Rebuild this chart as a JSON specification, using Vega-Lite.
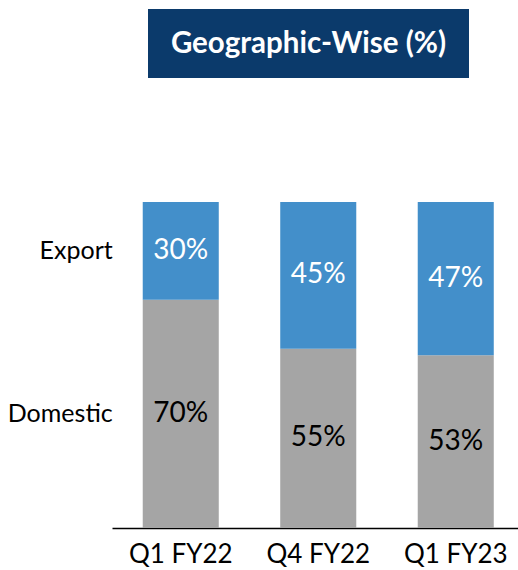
{
  "$schema": "https://vega.github.io/schema/vega-lite/v6.json",
  "padding": {"left": 7.5, "top": 9, "right": 0, "bottom": 0},
  "autosize": {"type": "pad"},
  "bounds": "flush",
  "center": true,
  "spacing": 124,
  "background": "white",
  "config": {"view": {"stroke": null}, "font": "Lato"},
  "vconcat": [
    {
      "width": 321,
      "height": 69,
      "view": {"fill": "#0b3a6b", "stroke": null},
      "data": {"values": [{"t": "Geographic-Wise (%)"}]},
      "mark": {"type": "text", "color": "white", "fontSize": 29.5, "fontWeight": "bold", "font": "Lato", "baseline": "middle", "align": "center"},
      "encoding": {"text": {"field": "t"}}
    },
    {
      "width": 432,
      "height": 326,
      "data": {"values": [
        {"q": "Q1 FY22", "geo": "Domestic", "value": 70, "label": "70%"},
        {"q": "Q1 FY22", "geo": "Export", "value": 30, "label": "30%"},
        {"q": "Q4 FY22", "geo": "Domestic", "value": 55, "label": "55%"},
        {"q": "Q4 FY22", "geo": "Export", "value": 45, "label": "45%"},
        {"q": "Q1 FY23", "geo": "Domestic", "value": 53, "label": "53%"},
        {"q": "Q1 FY23", "geo": "Export", "value": 47, "label": "47%"}
      ]},
      "encoding": {
        "x": {
          "field": "q", "type": "nominal", "sort": ["Q1 FY22", "Q4 FY22", "Q1 FY23"],
          "scale": {"range": [19.5, 432], "paddingInner": 0.447, "paddingOuter": 0.2235},
          "axis": {"title": null, "labelAngle": 0, "ticks": false, "domainColor": "black", "domainWidth": 1.5, "labelFontSize": 26, "labelColor": "black", "labelFont": "Lato", "labelPadding": 13}
        }
      },
      "layer": [
        {
          "mark": {"type": "bar"},
          "encoding": {
            "y": {"field": "value", "type": "quantitative", "stack": "zero", "scale": {"domain": [0, 100]}, "axis": null},
            "color": {"field": "geo", "type": "nominal", "scale": {"domain": ["Domestic", "Export"], "range": ["#a5a5a5", "#438fca"]}, "legend": null},
            "order": {"field": "geo"}
          }
        },
        {
          "mark": {"type": "text", "fontSize": 28, "font": "Lato", "baseline": "middle"},
          "encoding": {
            "y": {"field": "value", "type": "quantitative", "stack": "zero", "bandPosition": 0.5},
            "detail": {"field": "geo"},
            "order": {"field": "geo"},
            "text": {"field": "label"},
            "color": {"condition": {"test": "datum.geo === 'Export'", "value": "white"}, "value": "black"}
          }
        },
        {
          "transform": [{"filter": "datum.q === 'Q1 FY22'"}],
          "mark": {"type": "text", "fontSize": 25, "font": "Lato", "baseline": "middle", "align": "right", "dx": -30, "color": "black"},
          "encoding": {
            "x": {"field": "q", "type": "nominal", "sort": ["Q1 FY22", "Q4 FY22", "Q1 FY23"], "bandPosition": 0},
            "y": {"field": "value", "type": "quantitative", "stack": "zero", "bandPosition": 0.5},
            "detail": {"field": "geo"},
            "order": {"field": "geo"},
            "text": {"field": "geo"}
          }
        }
      ]
    }
  ]
}
